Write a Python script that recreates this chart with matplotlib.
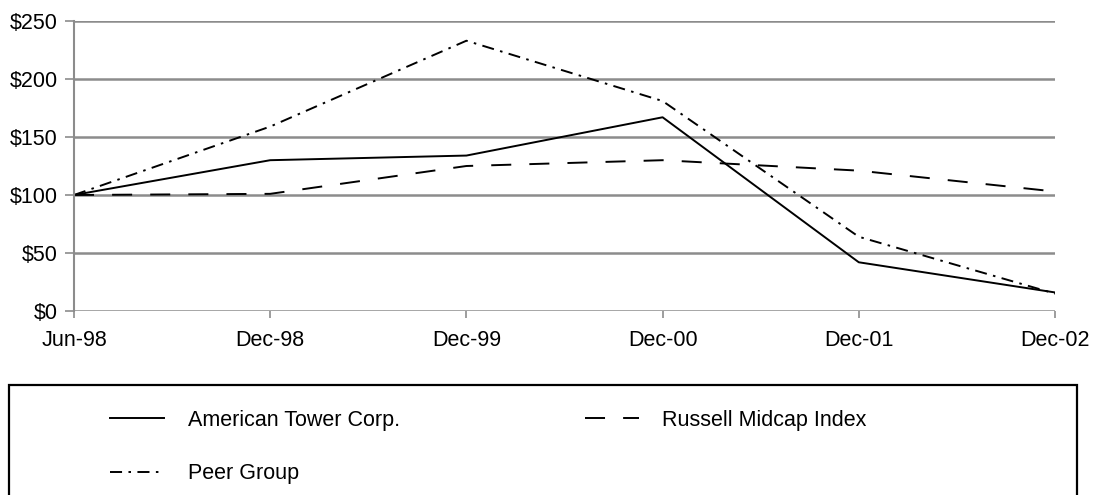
import matplotlib
matplotlib.use('Agg')
import matplotlib.pyplot as plt
from matplotlib.patches import Rectangle

plt.rcParams['font.family'] = ['Liberation Sans', 'DejaVu Sans']

# values
periods = ['Jun-98', 'Dec-98', 'Dec-99', 'Dec-00', 'Dec-01', 'Dec-02']
american_tower = [100, 130, 134, 167, 42, 16]
russell_midcap = [100, 101, 125, 130, 121, 103]
peer_group = [100, 159, 233, 181, 64, 15]
y_ticks = [0, 50, 100, 150, 200, 250]
y_labels = ['$0', '$50', '$100', '$150', '$200', '$250']

fig = plt.figure(figsize=(10.93, 4.95), dpi=100)
ax = fig.add_axes([74 / 1093, 1 - 311 / 495, (1055 - 74) / 1093, 290 / 495])

x = list(range(len(periods)))
l1, = ax.plot(x, american_tower, color='black', lw=1.4, label='American Tower Corp.')
l2, = ax.plot(x, russell_midcap, color='black', lw=1.4, dashes=(10.3, 9.3), label='Russell Midcap Index')
l3, = ax.plot(x, peer_group, color='black', lw=1.4, dashes=(6.2, 3.3, 1.3, 3.3), label='Peer Group')

ax.set_xlim(0, len(periods) - 1)
ax.set_ylim(0, 250)
ax.set_xticks(x)
ax.set_xticklabels(periods)
ax.set_yticks(y_ticks)
ax.set_yticklabels(y_labels)
ax.yaxis.grid(True, color='#8c8c8c', lw=1.8)
ax.set_axisbelow(True)
for s in ['top', 'right', 'bottom']:
    ax.spines[s].set_visible(False)
ax.spines['left'].set_color('#8c8c8c')
ax.spines['left'].set_linewidth(1.5)
ax.tick_params(axis='both', colors='#8c8c8c', width=1.2, labelsize=15.5, labelcolor='black')
ax.tick_params(axis='x', length=5, pad=9)
ax.tick_params(axis='y', length=6.5, pad=5)

# legend box (runs off the bottom of the image)
fig.patches.append(Rectangle((9 / 1093, -0.05), (1077 - 9) / 1093, (1 - 385 / 495) + 0.05,
                             transform=fig.transFigure, fill=False, ec='black', lw=1.6))
leg = fig.legend([l1, l3, l2], [l1.get_label(), l3.get_label(), l2.get_label()],
                 ncol=2, frameon=False, loc='upper left',
                 bbox_to_anchor=(110 / 1093, 1 - 410 / 495), borderpad=0, borderaxespad=0,
                 fontsize=15.5, handlelength=2.5, columnspacing=8.6, labelspacing=1.5,
                 handletextpad=1.1)

plt.savefig('out.png', dpi=100)
plt.close()
